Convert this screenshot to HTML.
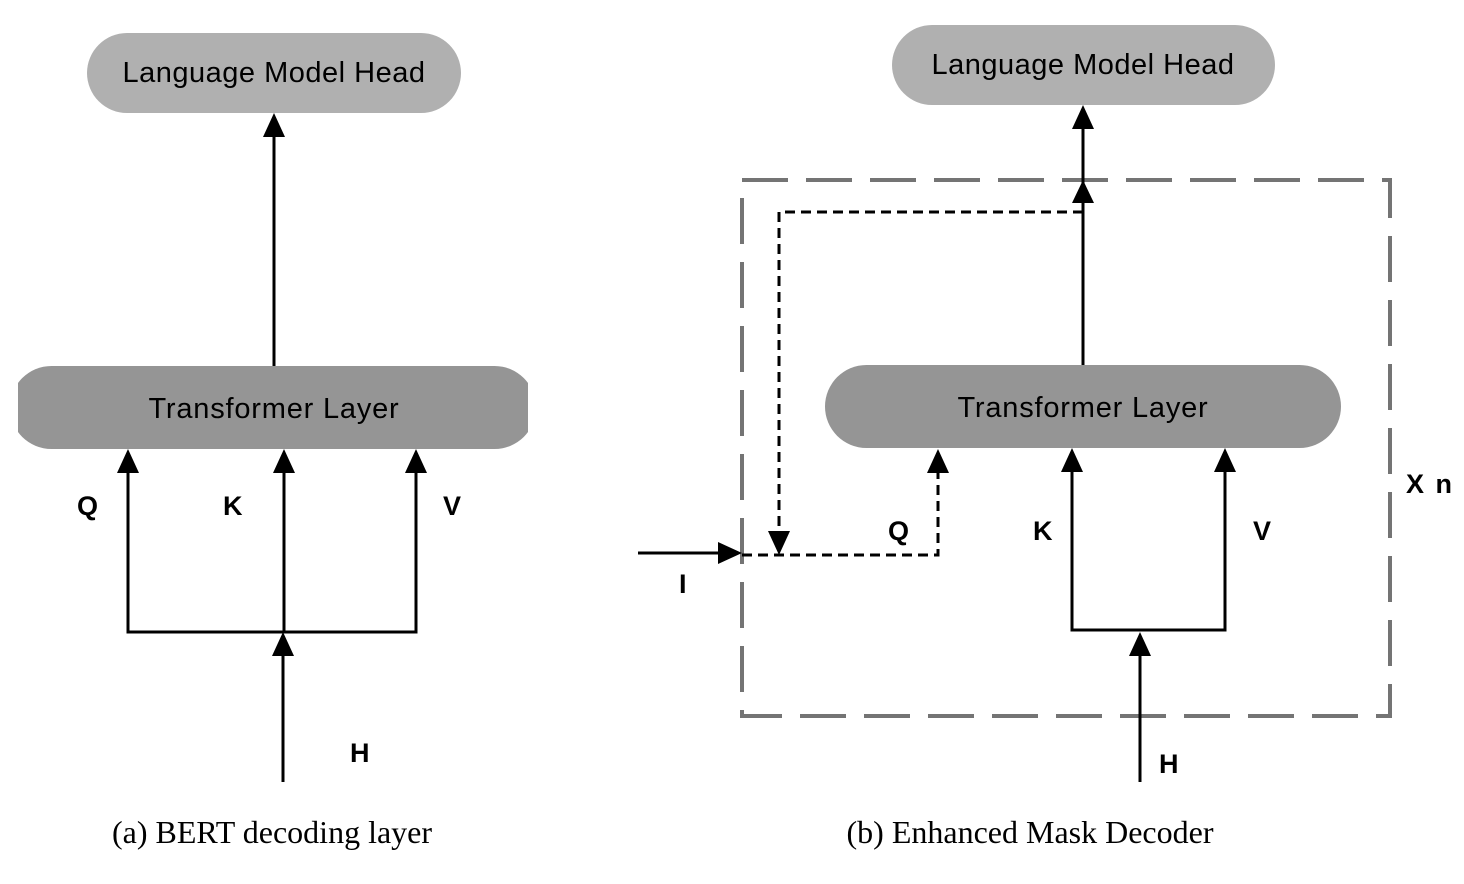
<!DOCTYPE html>
<html><head><style>body{margin:0;background:#fff}svg{display:block}</style></head><body>
<svg width="1464" height="884" viewBox="0 0 1464 884" xmlns="http://www.w3.org/2000/svg">
<defs><clipPath id="lc"><rect x="18" y="360" width="510" height="100"/></clipPath></defs>
<g font-family="Liberation Sans, sans-serif">
<!-- left -->
<rect x="87" y="33" width="374" height="80" rx="40" fill="#b0b0b0"/>
<text x="274" y="82" font-size="29" text-anchor="middle" letter-spacing="0.5">Language Model Head</text>
<rect x="10" y="366" width="526" height="83" rx="41.5" fill="#959595" clip-path="url(#lc)"/>
<text x="274" y="418" font-size="29" text-anchor="middle" letter-spacing="0.8">Transformer Layer</text>
<g stroke="#000" stroke-width="3" fill="none">
<line x1="274" y1="366" x2="274" y2="130"/>
<polyline points="128,470 128,632 416,632 416,470"/>
<line x1="284" y1="632" x2="284" y2="470"/>
<line x1="283" y1="782" x2="283" y2="650"/>
</g>
<g fill="#000">
<polygon points="274,113 263,137 285,137"/>
<polygon points="128,449 117,473 139,473"/>
<polygon points="284,449 273,473 295,473"/>
<polygon points="416,449 405,473 427,473"/>
<polygon points="283,632 272,656 294,656"/>
</g>
<g font-size="27" font-weight="bold">
<text x="77" y="515">Q</text><text x="223" y="515">K</text><text x="443" y="515">V</text><text x="350" y="762">H</text>
</g>
<!-- right -->
<rect x="742" y="180" width="648" height="536" fill="none" stroke="#747474" stroke-width="4" stroke-dasharray="46,18"/>
<rect x="892" y="25" width="383" height="80" rx="40" fill="#b0b0b0"/>
<text x="1083" y="74" font-size="29" text-anchor="middle" letter-spacing="0.5">Language Model Head</text>
<rect x="825" y="365" width="516" height="83" rx="41.5" fill="#959595"/>
<text x="1083" y="417" font-size="29" text-anchor="middle" letter-spacing="0.8">Transformer Layer</text>
<g stroke="#000" stroke-width="3" fill="none">
<line x1="1083" y1="365" x2="1083" y2="122"/>
<polyline points="1072,468 1072,630 1225,630 1225,468"/>
<line x1="1140" y1="782" x2="1140" y2="650"/>
<line x1="638" y1="553" x2="720" y2="553"/>
</g>
<g stroke="#000" stroke-width="3" fill="none" stroke-dasharray="10,6">
<polyline points="1083,212 779,212 779,535"/>
<polyline points="742,555 938,555 938,470"/>
</g>
<g fill="#000">
<polygon points="1083,105 1072,129 1094,129"/>
<polygon points="1083,180 1072,203 1094,203"/>
<polygon points="1072,448 1061,472 1083,472"/>
<polygon points="1225,448 1214,472 1236,472"/>
<polygon points="1140,632 1129,656 1151,656"/>
<polygon points="938,449 927,473 949,473"/>
<polygon points="779,555 768,531 790,531"/>
<polygon points="742,553 718,542 718,564"/>
</g>
<g font-size="27" font-weight="bold">
<text x="888" y="540">Q</text><text x="1033" y="540">K</text><text x="1253" y="540">V</text><text x="1159" y="773">H</text>
<text x="679" y="593">I</text><text x="1406" y="493" letter-spacing="2">X n</text>
</g>
</g>
<g font-family="Liberation Serif, serif" font-size="32">
<text x="272" y="843" text-anchor="middle">(a) BERT decoding layer</text>
<text x="1030" y="843" text-anchor="middle">(b) Enhanced Mask Decoder</text>
</g>
</svg>
</body></html>
